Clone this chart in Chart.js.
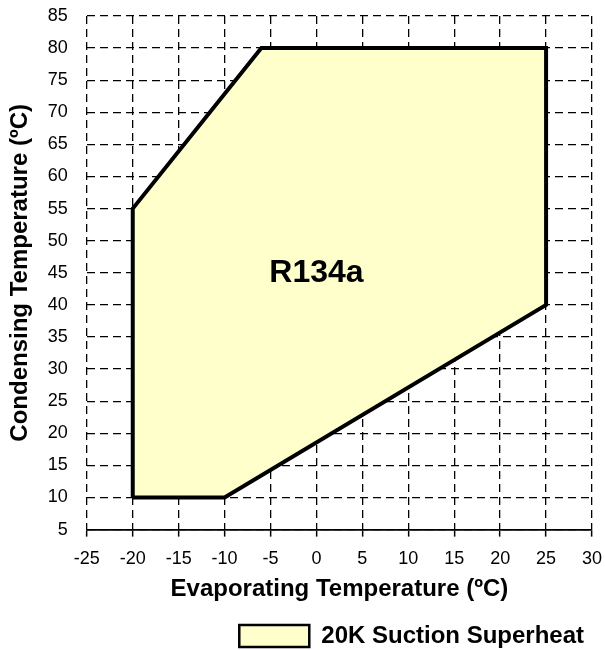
<!DOCTYPE html>
<html>
<head>
<meta charset="utf-8">
<script src="https://cdn.jsdelivr.net/npm/chart.js@4/dist/chart.umd.min.js"></script>
<style>
  html, body { margin: 0; padding: 0; background: #fff; }
  #wrap { width: 605px; height: 650px; }
</style>
</head>
<body>
<div id="wrap"><canvas id="envelope"></canvas></div>
<script>
// operating envelope corners, evaporating temp (x) vs condensing temp (y)
const evapTemps = [-20, -20, -6, 25, 25, -10, -20];
const condTemps = [10, 55, 80, 80, 40, 10, 10];
const seriesName = '20K Suction Superheat';
const refrigerant = 'R134a';
const refrigerantAt = { x: 0, y: 45 };

const xTicks = { min: -25, max: 30, step: 5 };
const yTicks = { min: 5, max: 85, step: 5 };

const FONT = "'Liberation Sans', Arial, sans-serif";
const ctx = document.getElementById('envelope');

const points = evapTemps.map((x, i) => ({ x: x, y: condTemps[i] }));

// writes the refrigerant name inside the envelope
const centerLabel = {
    id: 'centerLabel',
    afterDatasetsDraw(chart) {
        const c = chart.ctx;
        const px = chart.scales.x.getPixelForValue(refrigerantAt.x);
        const py = chart.scales.y.getPixelForValue(refrigerantAt.y);
        c.save();
        c.font = 'bold 32px ' + FONT;
        c.fillStyle = '#000';
        c.textAlign = 'center';
        c.textBaseline = 'middle';
        c.fillText(refrigerant, px, py);
        c.restore();
    }
};

let chart = new Chart(ctx, {
    type: 'scatter',
    data: {
        datasets: [{
            label: seriesName,
            data: points,
            showLine: true,
            fill: 'shape',
            backgroundColor: '#FFFFCC',
            borderColor: '#000',
            borderWidth: 4,
            borderJoinStyle: 'miter',
            pointRadius: 0,
            pointHoverRadius: 0,
            tension: 0
        }]
    },
    options: {
        responsive: true,
        maintainAspectRatio: false,
        animation: false,
        layout: {
            padding: 0
        },
        plugins: {
            tooltip: { enabled: false },
            legend: {
                position: 'bottom',
                align: 'end',
                maxHeight: 47,
                labels: {
                    boxWidth: 70,
                    boxHeight: 22,
                    color: '#000',
                    padding: 21,
                    font: { family: FONT, size: 24, weight: 'bold' },
                    generateLabels: () => [{
                        text: seriesName,
                        fillStyle: '#FFFFCC',
                        strokeStyle: '#000',
                        lineWidth: 2.5,
                        datasetIndex: 0
                    }]
                }
            }
        },
        scales: {
            x: {
                type: 'linear',
                min: xTicks.min,
                max: xTicks.max,
                // keep the plot close to the right edge
                afterFit: (scale) => { scale.paddingRight = 13; },
                ticks: {
                    stepSize: xTicks.step,
                    color: '#000',
                    padding: 12,
                    font: { family: FONT, size: 18 }
                },
                grid: {
                    color: '#000',
                    lineWidth: 1.3,
                    tickLength: 7,
                    tickColor: '#000',
                    tickWidth: 1.5,
                    tickBorderDash: []
                },
                border: { display: true, color: '#000', width: 1.8, dash: [8, 5] },
                title: {
                    display: true,
                    text: 'Evaporating Temperature (ºC)',
                    color: '#000',
                    padding: { top: -7, bottom: -1 },
                    font: { family: FONT, size: 24, weight: 'bold' }
                }
            },
            y: {
                type: 'linear',
                min: yTicks.min,
                max: yTicks.max,
                afterFit: (scale) => { scale.paddingTop = 16; scale.paddingBottom = 0; },
                ticks: {
                    stepSize: yTicks.step,
                    color: '#000',
                    padding: 19,
                    font: { family: FONT, size: 18 }
                },
                grid: {
                    color: '#000',
                    lineWidth: 1.3,
                    drawTicks: false
                },
                border: { display: false, dash: [8, 5] },
                title: {
                    display: true,
                    text: 'Condensing Temperature (ºC)',
                    color: '#000',
                    padding: { top: 6, bottom: -6 },
                    font: { family: FONT, size: 24, weight: 'bold' }
                }
            }
        }
    },
    plugins: [centerLabel]
});
</script>
</body>
</html>
